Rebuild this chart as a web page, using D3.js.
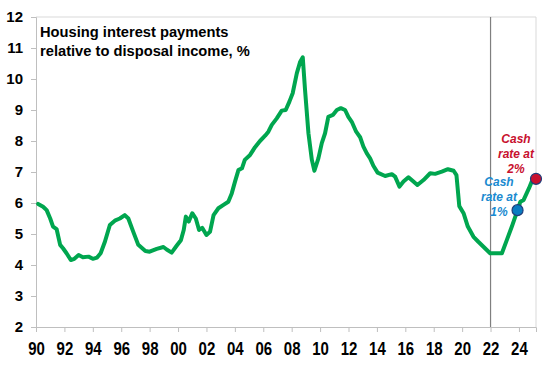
<!DOCTYPE html>
<html><head><meta charset="utf-8">
<script src="https://cdn.jsdelivr.net/npm/d3@7"></script>
<style>body{margin:0;background:#fff}svg{display:block}text{font-family:Arial,"Liberation Sans",sans-serif}</style>
</head><body><svg id="c" width="548" height="366"></svg>
<script>
const years = [1990.15,1990.5,1990.75,1991.0,1991.2,1991.45,1991.7,1991.9,1992.15,1992.45,1992.7,1993.0,1993.3,1993.7,1994.0,1994.3,1994.55,1994.85,1995.2,1995.55,1995.9,1996.25,1996.5,1996.85,1997.2,1997.7,1998.0,1998.5,1998.97,1999.2,1999.55,1999.9,2000.2,2000.4,2000.55,2000.75,2001.0,2001.25,2001.48,2001.7,2002.0,2002.25,2002.5,2002.84,2003.2,2003.54,2003.78,2004.01,2004.25,2004.5,2004.7,2005.07,2005.42,2005.77,2006.13,2006.36,2006.6,2006.95,2007.3,2007.58,2007.84,2008.07,2008.36,2008.6,2008.78,2008.94,2009.18,2009.42,2009.6,2009.88,2010.12,2010.35,2010.58,2010.9,2011.18,2011.46,2011.76,2011.99,2012.23,2012.54,2012.82,2013.05,2013.29,2013.52,2013.75,2014.05,2014.58,2015.05,2015.28,2015.59,2015.87,2016.22,2016.57,2016.85,2017.28,2017.75,2018.1,2018.57,2019.0,2019.4,2019.6,2019.8,2020.1,2020.4,2020.8,2021.14,2021.5,2021.97,2022.8,2023.15,2023.5,2023.9,2024.1,2024.33,2024.7,2024.9,2025.2];
const values = [5.97,5.88,5.77,5.5,5.24,5.16,4.65,4.54,4.38,4.16,4.2,4.32,4.25,4.27,4.2,4.24,4.38,4.75,5.29,5.43,5.5,5.61,5.5,5.07,4.65,4.45,4.43,4.52,4.58,4.5,4.4,4.62,4.8,5.13,5.56,5.4,5.67,5.5,5.13,5.2,4.97,5.07,5.61,5.83,5.94,6.04,6.31,6.69,7.06,7.12,7.39,7.55,7.8,8.0,8.17,8.3,8.52,8.73,8.98,9.0,9.27,9.54,10.18,10.56,10.7,9.65,8.25,7.39,7.04,7.44,7.93,8.25,8.78,8.84,9.0,9.06,9.0,8.78,8.62,8.3,8.12,7.82,7.6,7.44,7.2,6.98,6.87,6.93,6.85,6.53,6.69,6.83,6.69,6.58,6.74,6.96,6.94,7.01,7.09,7.04,6.9,5.9,5.67,5.24,4.91,4.75,4.59,4.38,4.38,4.81,5.24,5.77,6.04,6.1,6.47,6.69,6.78];
const xTickYears = [1990,1992,1994,1996,1998,2000,2002,2004,2006,2008,2010,2012,2014,2016,2018,2020,2022,2024];
const xTickLabels = ["90","92","94","96","98","00","02","04","06","08","10","12","14","16","18","20","22","24"];
const yTicks = [2,3,4,5,6,7,8,9,10,11,12];
const markerYears = [2023.9, 2025.2];
const markerValues = [5.77, 6.78];
const markerLabels = [["Cash","rate at","1%"],["Cash","rate at","2%"]];
const vLineYear = 2022;
const titleLines = ["Housing interest payments","relative to disposal income, %"];

const svg = d3.select("#c");
const L=36,R=536,T=17,B=327;
const x = d3.scaleLinear().domain([1990,2025.2]).range([L,R]);
const y = d3.scaleLinear().domain([2,12]).range([B,T]);

// frame
svg.append("line").attr("x1",L).attr("x2",R).attr("y1",T).attr("y2",T).attr("stroke","#d9d9d9");
svg.append("line").attr("x1",R).attr("x2",R).attr("y1",T).attr("y2",B).attr("stroke","#d9d9d9");

const yAxis = svg.append("g").attr("transform",`translate(${L},0)`)
  .call(d3.axisLeft(y).tickValues(yTicks).tickSize(5).tickPadding(8).tickFormat(d3.format("d")));
const xAxis = svg.append("g").attr("transform",`translate(0,${B})`)
  .call(d3.axisBottom(x).tickValues(xTickYears).tickSize(5).tickPadding(9).tickFormat((d,i)=>xTickLabels[i]));
[yAxis,xAxis].forEach(g=>{
  g.selectAll("path,line").attr("stroke","#bfbfbf");
  g.selectAll("text").attr("fill","#000").style("font-size","15px").style("font-weight","bold");
});
const sY = 1.17;
xAxis.selectAll(".tick text").attr("dy",null).attr("y",28/sY).attr("transform",`scale(1,${sY})`);

svg.append("line").attr("x1",x(vLineYear)).attr("x2",x(vLineYear)).attr("y1",T).attr("y2",B)
  .attr("stroke","#7f7f7f").attr("stroke-width",1.2);

const line = d3.line().x(i=>x(years[i])).y(i=>y(values[i]));
svg.append("path").attr("d",line(d3.range(years.length))).attr("fill","none")
  .attr("stroke","#00a64f").attr("stroke-width",4).attr("stroke-linejoin","round").attr("stroke-linecap","round");

const mColors = ["#0a7cc1","#c8102e"];
const lblX = [499,516];
const lblY = [186,143];
markerYears.forEach((yr,i)=>{
  svg.append("circle").attr("cx",x(yr)).attr("cy",y(markerValues[i])).attr("r",5.5)
    .attr("fill",mColors[i]).attr("stroke","#1f3d7a").attr("stroke-width",1.2);
  const t = svg.append("text").attr("text-anchor","middle").attr("fill",i===0?"#1a8ad0":"#c8102e")
    .style("font-size","12px").style("font-weight","bold").style("font-style","italic");
  markerLabels[i].forEach((s,j)=>t.append("tspan").attr("x",lblX[i]).attr("y",lblY[i]+j*15).text(s));
});

const tt = svg.append("text").style("font-size","14.7px").style("font-weight","bold").attr("fill","#000");
titleLines.forEach((s,j)=>tt.append("tspan").attr("x",40).attr("y",37+j*18.5).text(s));
</script></body></html>
